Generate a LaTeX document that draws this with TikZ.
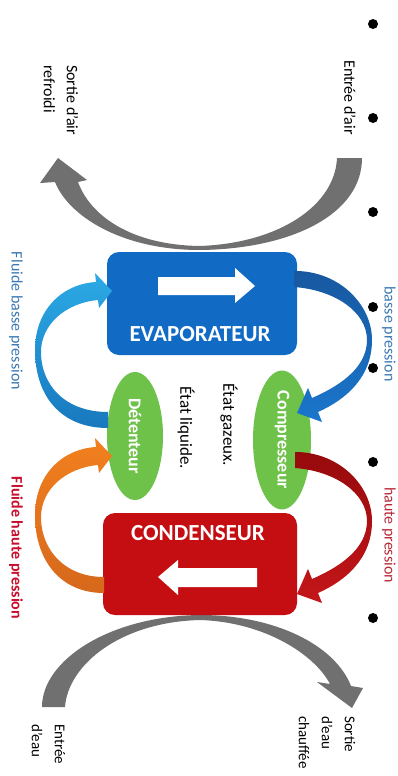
\documentclass[tikz,border=0pt]{standalone}
\usepackage{fontspec}
\setmainfont{Carlito}
\usetikzlibrary{shapes.geometric}
\definecolor{evapblue}{RGB}{17,106,196}
\definecolor{condred}{RGB}{196,14,18}
\definecolor{elgreen}{RGB}{110,194,74}
\definecolor{arrowgray}{RGB}{112,112,112}
\definecolor{bluedark}{RGB}{24,88,160}
\definecolor{bluemid}{RGB}{26,118,204}
\definecolor{cyanlight}{RGB}{44,170,230}
\definecolor{cyandark}{RGB}{24,120,190}
\definecolor{orangelight}{RGB}{242,128,30}
\definecolor{orangedark}{RGB}{214,104,28}
\definecolor{reddark}{RGB}{150,10,12}
\definecolor{redmid}{RGB}{196,22,26}
\definecolor{bptext}{RGB}{60,120,180}
\definecolor{hptext}{RGB}{184,40,56}
\definecolor{fhptext}{RGB}{200,16,46}
\begin{document}
\begin{tikzpicture}[x=1pt,y=-1pt,
  boxnode/.style={rounded corners=12pt, inner sep=0pt},
  boxlabel/.style={text=white, font=\fontsize{23}{26}\selectfont\bfseries, inner sep=0pt},
  ellnode/.style={ellipse, fill=elgreen, inner sep=0pt, rotate=-90, text=white, font=\fontsize{18}{20}\selectfont\bfseries},
  lbl/.style={inner sep=0pt, rotate=-90, font=\fontsize{16}{23}\selectfont},
  dotnode/.style={circle, fill=black, inner sep=0pt, minimum size=10pt}]
\clip (0,0) rectangle (398,776);
\fill[white] (0,0) rectangle (398,776);

% grey air / water arrows
\fill[arrowgray] (337,158) -- (362,158) .. controls (362,215) and (290,249) .. (200,250)
  .. controls (120,250) and (68,215) .. (55,182) -- (40,183) -- (58,158) -- (87,180) -- (78,182)
  .. controls (90,215) and (130,245) .. (200,246) .. controls (280,243) and (335,205) .. (337,158) -- cycle;
\fill[arrowgray] (42,707) .. controls (42,660) and (110,616) .. (200,615)
  .. controls (275,615) and (335,645) .. (351,686) -- (363,688) -- (352,708) -- (317,682) -- (330,684)
  .. controls (315,655) and (265,622) .. (200,620) .. controls (120,622) and (68,665) .. (65,707) -- cycle;

% boxes
\node[boxnode, fill=evapblue, minimum width=190pt, minimum height=103pt] (evap) at (202,303.5) {};
\node[boxlabel] (evaplabel) at (200,334) {EVAPORATEUR};
\fill[white] (158,277) -- (235,277) -- (235,268) -- (255,286) -- (235,303) -- (235,295) -- (158,295) -- cycle;
\node[boxnode, fill=condred, minimum width=194pt, minimum height=102pt] (cond) at (200,564) {};
\node[boxlabel] (condlabel) at (198,533) {CONDENSEUR};
\fill[white] (257,568) -- (178,568) -- (178,560) -- (158,577) -- (178,595) -- (178,587) -- (257,587) -- cycle;

% ellipses
\node[ellnode, minimum width=125pt, minimum height=58pt] (comp) at (282,440) {Compresseur};
\node[ellnode, minimum width=128pt, minimum height=56pt] (det) at (135,436) {Détenteur};

% fluid arrows
\shade[top color=bluedark, bottom color=bluemid] (294,271) -- (297,271)
  .. controls (340,272) and (372,305) .. (372,340) .. controls (372,378) and (345,400) .. (318,412)
  -- (322,422) -- (297,413) -- (308,388) -- (312,398)
  .. controls (335,388) and (367,370) .. (367,340) .. controls (367,312) and (335,290) .. (294,287) -- cycle;
\shade[top color=reddark, bottom color=redmid] (295,452) -- (297,452)
  .. controls (340,453) and (372,486) .. (372,521) .. controls (372,559) and (345,581) .. (318,593)
  -- (322,603) -- (297,594) -- (308,569) -- (312,579)
  .. controls (335,569) and (367,551) .. (367,521) .. controls (367,493) and (335,471) .. (295,468) -- cycle;
\shade[top color=cyanlight, bottom color=cyandark] (108,428) .. controls (60,428) and (35,395) .. (35,350)
  .. controls (35,310) and (62,284) .. (96,282) -- (95,273) -- (112,291) -- (99,308) -- (98,300)
  .. controls (65,303) and (41,325) .. (41,352) .. controls (41,385) and (65,412) .. (108,412) -- cycle;
\shade[top color=orangelight, bottom color=orangedark] (104,593) .. controls (60,593) and (35,560) .. (35,515)
  .. controls (35,475) and (62,449) .. (96,447) -- (95,438) -- (112,456) -- (99,473) -- (98,465)
  .. controls (65,468) and (41,490) .. (41,517) .. controls (41,550) and (65,577) .. (104,577) -- cycle;

% bullets
\foreach \yy [count=\i] in {24,118,212,307,368,462,618}
  \node[dotnode] (b\i) at (373,\yy) {};

% labels
\node[lbl, anchor=west] (entreeair) at (350,60) {Entrée d’air};
\node[lbl, anchor=west, align=left] (sortieair) at (61,65) {Sortie d’air\\refroidi};
\node[lbl, anchor=west, align=left, font=\fontsize{15}{23}\selectfont] (entreeeau) at (48.5,724) {Entrée\\d’eau};
\node[lbl, anchor=west, align=left, font=\fontsize{15}{23}\selectfont] (sortieeau) at (327,716) {Sortie\\d’eau\\chauffée};
\node[lbl, font=\fontsize{17}{20}\selectfont] (gaz) at (229,425) {État gazeux.};
\node[lbl, font=\fontsize{17}{20}\selectfont] (liq) at (186,428) {État liquide.};
\node[lbl, text=bptext] (bp) at (389,334) {basse pression};
\node[lbl, text=hptext] (hp) at (389,535) {haute pression};
\node[lbl, text=bptext] (fbp) at (16,321) {Fluide basse pression};
\node[lbl, text=fhptext, font=\fontsize{16}{20}\selectfont\bfseries] (fhp) at (16,548) {Fluide haute pression};
\end{tikzpicture}
\end{document}
